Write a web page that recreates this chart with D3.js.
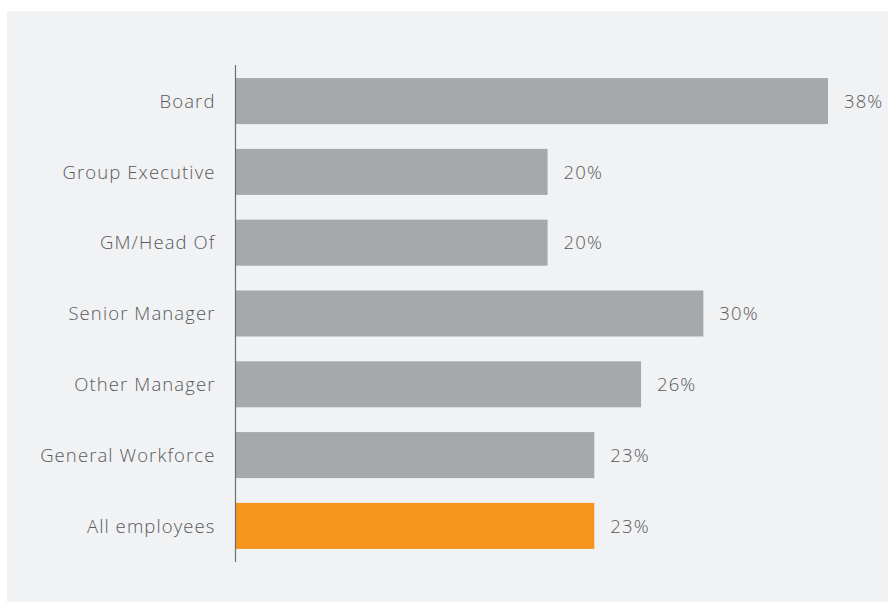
<!DOCTYPE html>
<html>
<head>
<meta charset="utf-8">
<script src="https://cdn.jsdelivr.net/npm/d3@7"></script>
<style>
  html, body { margin: 0; padding: 0; background: #ffffff; }
  svg { display: block; }
</style>
</head>
<body>
<svg id="chart" width="888" height="602"></svg>
<script>
// Share of women by level
const categories = ["Board", "Group Executive", "GM/Head Of", "Senior Manager", "Other Manager", "General Workforce", "All employees"];
const values = [38, 20, 20, 30, 26, 23, 23];
const valueLabels = ["38%", "20%", "20%", "30%", "26%", "23%", "23%"];
const highlight = ["All employees"];

const data = categories.map((c, i) => ({ name: c, value: values[i], label: valueLabels[i] }));

const svg = d3.select("#chart");
const W = 888, H = 602;

// panel background
svg.append("rect")
  .attr("x", 7).attr("y", 11)
  .attr("width", W - 7).attr("height", H - 11)
  .attr("fill", "#f1f2f4");

const x0 = 236;
const x = d3.scaleLinear().domain([0, 38]).range([x0, 828]);
const y = d3.scaleBand().domain(categories).range([65, 562]).paddingInner(0.35).paddingOuter(0.185);

const font = "'Open Sans', sans-serif";

svg.append("g").selectAll("rect")
  .data(data)
  .join("rect")
  .attr("x", x0)
  .attr("y", d => y(d.name))
  .attr("width", d => x(d.value) - x0)
  .attr("height", y.bandwidth())
  .attr("fill", d => highlight.includes(d.name) ? "#f7941d" : "#a7a8ab");

// category axis
const axis = d3.axisLeft(y).tickSize(0).tickPadding(20);
const gAxis = svg.append("g").attr("transform", `translate(${x0 - 0.5},0)`).call(axis);
gAxis.select(".domain").attr("stroke", "#6d6e71").attr("stroke-width", 1.2).attr("d", "M0,65V562");
gAxis.selectAll("text")
  .attr("fill", "#58595b")
  .attr("dy", "0.36em")
  .style("font-family", font)
  .style("font-weight", 350)
  .style("font-size", "18.5px")
  .style("letter-spacing", "1.1px");

// value labels
svg.append("g").selectAll("text")
  .data(data)
  .join("text")
  .attr("x", d => x(d.value) + 16)
  .attr("y", d => y(d.name) + y.bandwidth() / 2)
  .attr("dy", "0.36em")
  .attr("fill", "#58595b")
  .style("font-family", font)
  .style("font-weight", 350)
  .style("font-size", "18.5px")
  .style("letter-spacing", "1.1px")
  .text(d => d.label);
</script>
</body>
</html>
